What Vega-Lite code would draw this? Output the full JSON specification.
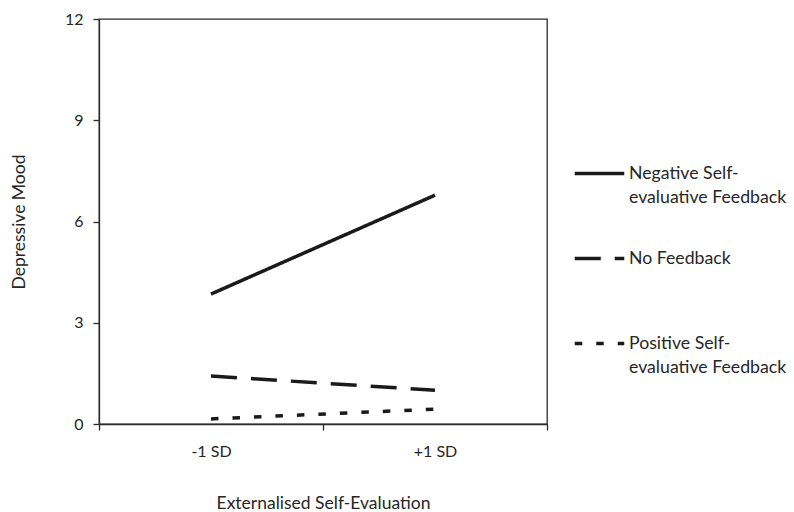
{
  "$schema": "https://vega.github.io/schema/vega-lite/v6.json",
  "width": 448,
  "height": 405,
  "autosize": {"type": "none"},
  "padding": {"left": 99, "top": 19, "right": 247, "bottom": 88},
  "background": "white",
  "config": {
    "font": "Lato",
    "view": {"stroke": "#2b2b2b", "strokeWidth": 1.3},
    "axis": {"grid": false, "domainColor": "#2b2b2b", "tickColor": "#2b2b2b", "labelColor": "#262626", "titleColor": "#262626", "labelFont": "Lato", "titleFont": "Lato", "labelFontSize": 16, "titleFontSize": 17.5, "titleFontWeight": "normal", "domainWidth": 1.3, "tickWidth": 1.3}
  },
  "data": {
    "values": [
      {"level": "-1 SD", "group": "Negative Self-evaluative Feedback", "mood": 3.85},
      {"level": "+1 SD", "group": "Negative Self-evaluative Feedback", "mood": 6.78},
      {"level": "-1 SD", "group": "No Feedback", "mood": 1.42},
      {"level": "+1 SD", "group": "No Feedback", "mood": 1.0},
      {"level": "-1 SD", "group": "Positive Self-evaluative Feedback", "mood": 0.15},
      {"level": "+1 SD", "group": "Positive Self-evaluative Feedback", "mood": 0.44}
    ]
  },
  "mark": {"type": "line", "color": "#1a1a1a", "strokeWidth": 3.5, "strokeCap": "butt"},
  "encoding": {
    "x": {
      "field": "level", "type": "nominal", "sort": ["-1 SD", "+1 SD"],
      "scale": {"type": "band", "paddingInner": 0, "paddingOuter": 0},
      "axis": {"title": "Externalised Self-Evaluation", "labelAngle": 0, "tickBand": "extent", "tickSize": 6, "labelPadding": 13, "titlePadding": 35}
    },
    "y": {
      "field": "mood", "type": "quantitative",
      "scale": {"domain": [0, 12], "nice": false, "zero": true},
      "axis": {"title": "Depressive Mood", "values": [0, 3, 6, 9, 12], "tickSize": 6, "labelPadding": 10, "titlePadding": 36}
    },
    "strokeDash": {
      "field": "group", "type": "nominal",
      "scale": {
        "domain": ["Negative Self-evaluative Feedback", "No Feedback", "Positive Self-evaluative Feedback"],
        "range": [[1, 0], [26, 14], [7.5, 14]]
      },
      "legend": {
        "title": null,
        "orient": "none",
        "legendX": 474,
        "legendY": 128,
        "padding": 0,
        "symbolType": "stroke",
        "symbolSize": 2450,
        "symbolStrokeWidth": 3.5,
        "symbolStrokeColor": "#1a1a1a",
        "labelFont": "Lato",
        "labelFontSize": 17.7,
        "labelColor": "#262626",
        "labelOffset": 3,
        "labelLimit": 300,
        "rowPadding": 25,
        "labelExpr": "datum.label === 'Negative Self-evaluative Feedback' ? ['Negative Self-', 'evaluative Feedback'] : datum.label === 'Positive Self-evaluative Feedback' ? ['Positive Self-', 'evaluative Feedback'] : ['No Feedback', '']",
        "encode": {"labels": {"update": {"lineHeight": {"value": 24}}}}
      }
    }
  }
}
